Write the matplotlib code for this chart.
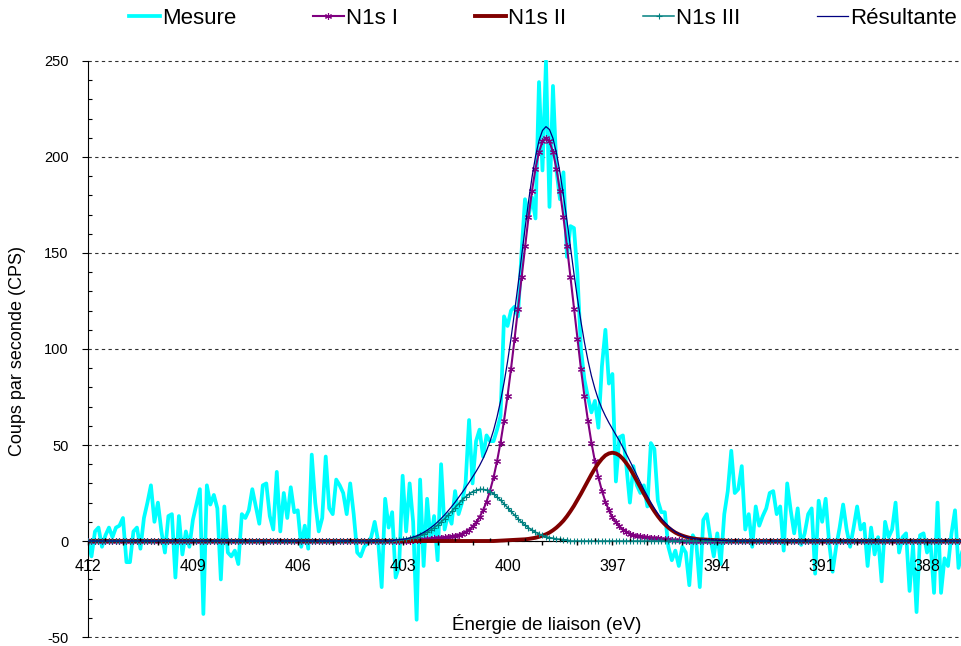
import numpy as np
import matplotlib
matplotlib.use("Agg")
import matplotlib.pyplot as plt
from matplotlib.ticker import MultipleLocator, FuncFormatter

plt.rcParams['font.family'] = ['Liberation Sans', 'DejaVu Sans']
plt.rcParams['axes.unicode_minus'] = False

# énergie de liaison, pas de 0.1 eV, de 412 à 387 eV (251 points)
energie = np.round(np.linspace(412.0, 387.0, 251), 1)

# mesure brute (CPS)
mesure = [
    0, -8, 5, 7, -3, 3, 7, 2, 7, 8,                 # 412.0
    12, -11, -11, 5, 7, -4, 12, 20, 29, 10,         # 411.0
    20, 5, -6, 13, 14, -19, 13, -7, 5, -3,          # 410.0
    11, 19, 27, -38, 29, 19, 24, 17, -20, 18,       # 409.0
    -6, -8, -5, -12, 14,                            # 408.0
    12, 16, 27, 18, 9, 29, 30, 13, 6, 36,           # 407.5
    5, 25, 12, 28, 15, 16, -3, 8, -4, 45,           # 406.5
    20, 5, 12, 44, 17, 14, 32, 29, 25, 14,          # 405.5
    30, 14, -6, -8, -3, -1, 2, 10, 0, -24,          # 404.5
    22, 7, 15, -19, -13, 34,                        # 403.5
    5, 30, 10, -41, 32, -13, 22, 0, 13, -10,        # 402.9
    40, 6, 14, 9, 26, 14, 20, 30, 63, 30,           # 401.9
    52, 58, 44, 55, 52, 52, 58, 65, 117, 112,       # 400.9
    120, 122, 117, 150, 178, 169, 179, 168, 239, 193,  # 399.9
    250, 174, 237, 193, 178, 192, 148, 164, 163, 139,  # 398.9
    100, 84, 75, 67, 73, 59, 91, 110, 82, 87,       # 397.9
    31, 54, 55, 39, 20, 39, 29, 25, 29, 18,         # 396.9
    51, 48, 21, 15, 15,                             # 395.9
    -3, -10, -5, -13, -3, -6, -23, 3, -1, -24,      # 395.4
    11, 14, 2, -8, 4, -12, 14, 26, 47, 25,          # 394.4
    27, 39, 6, 14, -3, 18,                          # 393.4
    8, 13, 17, 25, 26, 14, 18, -5, 30, 16,          # 392.8
    4, 17, -2, 4, 14, 17, -17, 21, 10, 22,          # 391.8
    -1, -16, -3, 7, 19, 6, -3, 7, 18, 6,            # 390.8
    9, -13, 7, -7, 2, -21, 10, 2, 6, 20,            # 389.8
    -6, 2, 4, -26, -2, -37, 3, 4, -6, -1,           # 388.8
    -27, 20, -27, -9, -13, 4, 16, -14, -6,          # 387.8
]

# composante N1s I (max vers 398.9 eV)
n1s_1 = [
    0, 0, 0, 0, 0, 0, 0, 0, 0, 0,
    0, 0, 0, 0, 0, 0, 0, 0, 0, 0,
    0, 0, 0, 0, 0, 0, 0, 0, 0, 0,
    0, 0, 0, 0, 0, 0, 0, 0, 0, 0,
    0, 0, 0, 0, 0, 0, 0, 0, 0, 0,
    0, 0, 0, 0, 0, 0, 0, 0, 0, 0,
    0, 0, 0, 0, 0, 0, 0, 0, 0, 0,
    0, 0, 0, 0, 0, 0, 0, 0, 0, 0,
    0, 0, 0, 0, 0, 0, 0, 0, 0, 0,
    0, 0,
    0.1, 0.3, 0.4, 0.6, 0.8, 1.0, 1.2, 1.4, 1.6, 1.8,        # 402.8
    2.0, 2.2, 2.5, 2.8, 3.3, 3.9, 4.8, 6.0, 7.6, 9.7,        # 401.8
    12.4, 16.0, 20.5, 26.2, 33.1, 41.5, 51.3, 62.7, 75.5, 89.7,   # 400.8
    105.0, 121.0, 137.4, 153.4, 168.7, 182.3, 193.9, 202.6, 208.1,  # 399.8
    210.0,                                                     # 398.9
    208.1, 202.6, 193.9, 182.3, 168.7, 153.4, 137.4, 121.0, 105.0,
    89.7, 75.5, 62.7, 51.3, 41.5, 33.1, 26.2, 20.5, 16.0, 12.4,
    9.7, 7.6, 6.0, 4.8, 3.9, 3.3, 2.8, 2.5, 2.2, 2.0,
    1.8, 1.6, 1.4, 1.2, 1.0, 0.8, 0.6, 0.4, 0.3, 0.1,
    0, 0, 0, 0, 0, 0, 0, 0, 0, 0,
    0, 0, 0, 0, 0, 0, 0, 0, 0, 0,
    0, 0, 0, 0, 0, 0, 0, 0, 0, 0,
    0, 0, 0, 0, 0, 0, 0, 0, 0, 0,
    0, 0, 0, 0, 0, 0, 0, 0, 0, 0,
    0, 0, 0, 0, 0, 0, 0, 0, 0, 0,
    0, 0, 0, 0, 0, 0, 0, 0, 0, 0,
    0, 0, 0, 0, 0, 0, 0, 0, 0, 0,
]

# composante N1s II (max vers 397.0 eV)
n1s_2 = [
    0, 0, 0, 0, 0, 0, 0, 0, 0, 0,
    0, 0, 0, 0, 0, 0, 0, 0, 0, 0,
    0, 0, 0, 0, 0, 0, 0, 0, 0, 0,
    0, 0, 0, 0, 0, 0, 0, 0, 0, 0,
    0, 0, 0, 0, 0, 0, 0, 0, 0, 0,
    0, 0, 0, 0, 0, 0, 0, 0, 0, 0,
    0, 0, 0, 0, 0, 0, 0, 0, 0, 0,
    0, 0, 0, 0, 0, 0, 0, 0, 0, 0,
    0, 0, 0, 0, 0, 0, 0, 0, 0, 0,
    0, 0, 0, 0, 0, 0, 0, 0, 0, 0,
    0, 0, 0, 0, 0, 0, 0, 0, 0, 0,
    0, 0, 0, 0, 0, 0, 0,
    0.1, 0.2, 0.3, 0.4, 0.5, 0.6, 0.7, 0.8, 0.9, 1.1,        # 400.3
    1.4, 1.7, 2.2, 2.8, 3.5, 4.4, 5.6, 7.0, 8.7, 10.6,       # 399.3
    12.9, 15.5, 18.3, 21.4, 24.6, 28.0, 31.4, 34.7, 37.8, 40.5,  # 398.3
    42.8, 44.6, 45.6, 46.0,                                  # 397.3
    45.6, 44.6, 42.8, 40.5, 37.8, 34.7, 31.4, 28.0, 24.6, 21.4,
    18.3, 15.5, 12.9, 10.6, 8.7, 7.0, 5.6, 4.4, 3.5, 2.8,
    2.2, 1.7, 1.4, 1.1, 0.9, 0.8, 0.7, 0.6, 0.5, 0.4,
    0.3, 0.2, 0.1,
    0, 0, 0, 0, 0, 0, 0, 0, 0, 0,
    0, 0, 0, 0, 0, 0, 0, 0, 0, 0,
    0, 0, 0, 0, 0, 0, 0, 0, 0, 0,
    0, 0, 0, 0, 0, 0, 0, 0, 0, 0,
    0, 0, 0, 0, 0, 0, 0, 0, 0, 0,
    0, 0, 0, 0, 0, 0, 0, 0, 0, 0,
    0, 0, 0, 0, 0, 0, 0,
]

# composante N1s III (max vers 400.75 eV)
n1s_3 = [
    0, 0, 0, 0, 0, 0, 0, 0, 0, 0,
    0, 0, 0, 0, 0, 0, 0, 0, 0, 0,
    0, 0, 0, 0, 0, 0, 0, 0, 0, 0,
    0, 0, 0, 0, 0, 0, 0, 0, 0, 0,
    0, 0, 0, 0, 0, 0, 0, 0, 0, 0,
    0, 0, 0, 0, 0, 0, 0, 0, 0, 0,
    0, 0, 0, 0, 0, 0, 0, 0, 0, 0,
    0, 0, 0, 0, 0, 0, 0, 0, 0, 0,
    0, 0, 0, 0, 0, 0, 0, 0,
    0.6, 0.7, 0.9, 1.1, 1.5, 1.8, 2.3, 2.9, 3.7, 4.6,        # 403.2
    5.7, 6.9, 8.3, 9.9, 11.6, 13.5, 15.4, 17.4, 19.4, 21.3,  # 402.2
    23.0, 24.5, 25.7, 26.5, 26.9,                            # 401.2
    26.9, 26.5, 25.7, 24.5, 23.0, 21.3, 19.4, 17.4, 15.4, 13.5,  # 400.7
    11.6, 9.9, 8.3, 6.9, 5.7, 4.6, 3.7, 2.9, 2.3, 1.8,
    1.5, 1.1, 0.9, 0.7, 0.6,
    0, 0, 0, 0, 0, 0, 0, 0, 0, 0,
    0, 0, 0, 0, 0, 0, 0, 0, 0, 0,
    0, 0, 0, 0, 0, 0, 0, 0, 0, 0,
    0, 0, 0, 0, 0, 0, 0, 0, 0, 0,
    0, 0, 0, 0, 0, 0, 0, 0, 0, 0,
    0, 0, 0, 0, 0, 0, 0, 0, 0, 0,
    0, 0, 0, 0, 0, 0, 0, 0, 0, 0,
    0, 0, 0, 0, 0, 0, 0, 0, 0, 0,
    0, 0, 0, 0, 0, 0, 0, 0, 0, 0,
    0, 0, 0, 0, 0, 0, 0, 0, 0, 0,
    0, 0, 0, 0, 0, 0, 0, 0, 0, 0,
    0, 0, 0,
]

# la résultante est la somme des trois composantes
resultante = np.array(n1s_1) + np.array(n1s_2) + np.array(n1s_3)

fig = plt.figure(figsize=(9.62, 6.46), dpi=100)
ax = fig.add_axes([88 / 962, 8.2 / 646, 874 / 962, 577.6 / 646])

ax.plot(energie, mesure, color='#00FFFF', lw=2.7, label='Mesure', zorder=2)
ax.plot(energie, n1s_1, color='#800080', lw=1.5, marker=(6, 2, 0), ms=5, mew=0.8,
        label='N1s I', zorder=3)
ax.plot(energie, n1s_2, color='#800000', lw=2.8, label='N1s II', zorder=4)
ax.plot(energie, n1s_3, color='#008080', lw=1.1, marker='+', ms=5, mew=0.8,
        label='N1s III', zorder=5)
ax.plot(energie, resultante, color='#000080', lw=0.9, label='Résultante', zorder=6)

ax.set_xlim(412, 387)
ax.set_ylim(-50.4, 250.4)

ax.spines['top'].set_visible(False)
ax.spines['right'].set_visible(False)
ax.spines['bottom'].set_position(('data', 0))
ax.spines['left'].set_bounds(-50, 250)

ax.xaxis.set_major_locator(MultipleLocator(1))
ax.xaxis.set_minor_locator(MultipleLocator(0.5))
ax.xaxis.set_major_formatter(FuncFormatter(
    lambda v, p: f"{v:.0f}" if int(round(412 - v)) % 3 == 0 else ""))
ax.tick_params(axis='x', which='major', direction='out', length=3, width=1,
               labelsize=11.5, pad=10)
ax.tick_params(axis='x', which='minor', direction='in', length=2.5, width=1)

ax.yaxis.set_major_locator(MultipleLocator(50))
ax.yaxis.set_minor_locator(MultipleLocator(10))
ax.tick_params(axis='y', which='major', direction='out', length=4, width=0.8,
               labelsize=10.5, pad=10)
ax.tick_params(axis='y', which='minor', direction='in', length=3, width=0.8)

ax.set_axisbelow(True)
ax.yaxis.grid(True, which='major', linestyle=(0, (3, 3)), color='#303030', lw=0.8)
ax.xaxis.set_zorder(7)

fig.text(18 / 962, 1 - 351 / 646, 'Coups par seconde (CPS)', rotation=90,
         ha='center', va='center', fontsize=13)
fig.text(547 / 962, 1 - 624 / 646, 'Énergie de liaison (eV)',
         ha='center', va='center', fontsize=13.5)

fig.legend(loc='center', bbox_to_anchor=(543 / 962, 1 - 18 / 646), ncol=5,
           frameon=False, fontsize=16, handlelength=1.4, handletextpad=0.1,
           columnspacing=3.45)

fig.savefig('out.png', dpi=100)
